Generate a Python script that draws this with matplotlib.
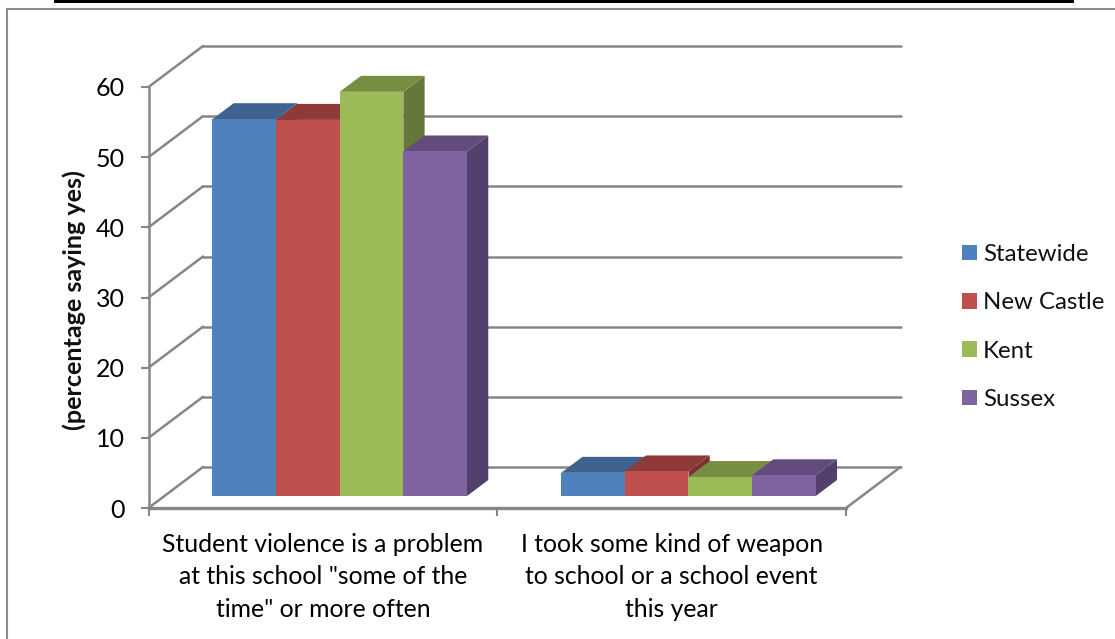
import matplotlib
matplotlib.use("Agg")
import matplotlib.pyplot as plt
from matplotlib.patches import Patch, Rectangle

categories = ['Student violence is a problem\nat this school "some of the\ntime" or more often',
              'I took some kind of weapon\nto school or a school event\nthis year']
series_names = ["Statewide", "New Castle", "Kent", "Sussex"]
statewide = [53.7, 3.3]
new_castle = [53.6, 3.5]
kent = [57.6, 2.7]
sussex = [49.1, 2.95]
y_ticks = [0, 10, 20, 30, 40, 50, 60]
y_label = "(percentage saying yes)"

front_colors = ["#4F81BD", "#C0504D", "#9BBB59", "#8064A2"]
top_colors = ["#3E6390", "#8F3A38", "#778E42", "#624C7D"]
side_colors = ["#3A5C87", "#7A302E", "#65783A", "#523F6B"]
line_color = "#868686"

W, H = 1115, 639
font = ["Lato", "DejaVu Sans"]
plt.rcParams["font.family"] = font
plt.rcParams["text.color"] = "#111111"

fig = plt.figure(figsize=(W / 100, H / 100), dpi=100)
ax = fig.add_axes([148.5 / W, (H - 508) / H, 697.5 / W, 421 / H])
ax.set_xlim(0, 2)
ax.set_ylim(0, 60)

# oblique depth: one full depth step in data units
DX = 54.5 / 348.75
DY = 41 / 7.017
BAR_W = 0.1825
BAR_PAD = 0.1375
D0, D1 = 0.293, 0.683


def proj(x, y, d):
    return x + d * DX, y + d * DY


def poly(points, color):
    xs = [p[0] for p in points]
    ys = [p[1] for p in points]
    ax.fill(xs, ys, color=color, lw=0, clip_on=False, zorder=3)


def wall_line(p1, p2):
    ax.plot([p1[0], p2[0]], [p1[1], p2[1]], color=line_color, lw=1.8,
            clip_on=False, zorder=2, solid_capstyle="round")


# back wall grid and left wall diagonals
for v in y_ticks:
    wall_line(proj(0, v, 0), proj(0, v, 1))
    wall_line(proj(0, v, 1), proj(2, v, 1))
wall_line(proj(2, 0, 0), proj(2, 0, 1))

# bars, left to right so the later ones cover the earlier sides
all_series = [statewide, new_castle, kent, sussex]
for c in range(len(categories)):
    for s, values in enumerate(all_series):
        left = c + BAR_PAD + s * BAR_W
        right = left + BAR_W
        v = values[c]
        poly([proj(right, 0, D0), proj(right, 0, D1), proj(right, v, D1), proj(right, v, D0)], side_colors[s])
        poly([proj(left, v, D0), proj(right, v, D0), proj(right, v, D1), proj(left, v, D1)], top_colors[s])
        poly([proj(left, 0, D0), proj(right, 0, D0), proj(right, v, D0), proj(left, v, D0)], front_colors[s])

# front axes
for side in ["top", "right"]:
    ax.spines[side].set_visible(False)
ax.spines["left"].set_color(line_color)
ax.spines["left"].set_linewidth(1.8)
ax.spines["bottom"].set_color(line_color)
ax.spines["bottom"].set_linewidth(2.4)
ax.set_yticks(y_ticks)
ax.tick_params(axis="y", length=6, width=1.5, color=line_color, pad=11, labelsize=18)
ax.set_xticks([0, 1, 2], labels=[])
ax.tick_params(axis="x", which="major", length=6, width=1.5, color=line_color)
ax.set_xticks([0.5, 1.5], labels=categories, minor=True)
ax.tick_params(axis="x", which="minor", length=0, pad=18, labelsize=17.8)
for lab in ax.get_xticklabels(minor=True):
    lab.set_linespacing(1.5)
    lab.set_ha("center")

fig.text(74 / W, 1 - 300 / H, y_label, rotation=90, ha="center", va="center",
         fontsize=18.1, fontweight="bold")

handles = [Patch(facecolor=c, edgecolor="none") for c in front_colors]
fig.legend(handles, series_names, loc="center left", bbox_to_anchor=(962 / W, 1 - 327 / H),
           frameon=False, fontsize=17.3, handlelength=0.62, handleheight=0.62,
           handletextpad=0.25, labelspacing=1.135, borderpad=0, borderaxespad=0)

# outer chart frame and the black rule above it
frame = [((7, 639), (7, 9)), ((7, 9), (1115, 9))]
for (x1, y1), (x2, y2) in frame:
    fig.add_artist(plt.Line2D([x1 / W, x2 / W], [1 - y1 / H, 1 - y2 / H], color="#8c8c8c", lw=1.5))
fig.add_artist(Rectangle((54 / W, 1 - 3 / H), 1020 / W, 3 / H, facecolor="black", edgecolor="none",
                         transform=fig.transFigure))

fig.savefig("out.png", dpi=100)
